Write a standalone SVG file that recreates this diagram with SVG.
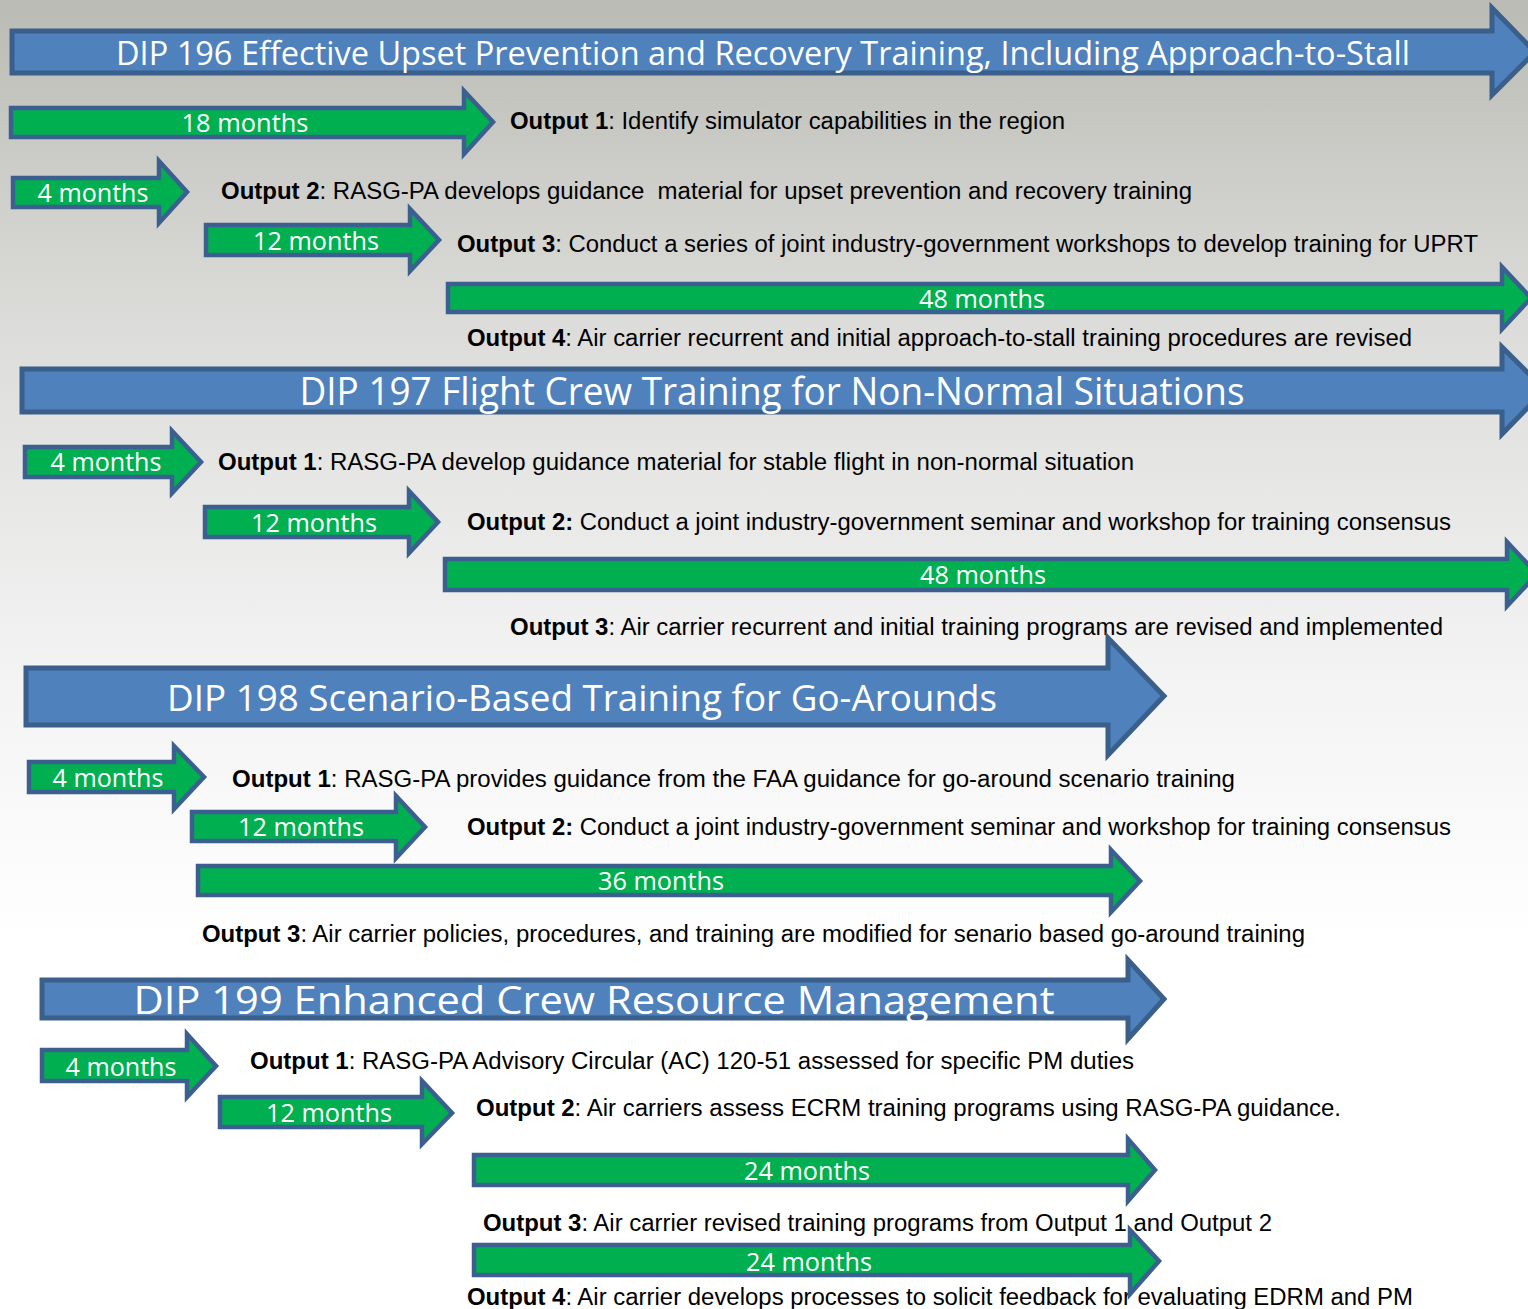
<svg xmlns="http://www.w3.org/2000/svg" width="1528" height="1309" viewBox="0 0 1528 1309">
<defs>
<linearGradient id="bg" x1="0" y1="0" x2="0" y2="1">
<stop offset="0" stop-color="#bbbbb5"/>
<stop offset="0.25" stop-color="#dcdcda"/>
<stop offset="0.5" stop-color="#f2f2f2"/>
<stop offset="0.72" stop-color="#ffffff"/>
<stop offset="1" stop-color="#ffffff"/>
</linearGradient>
<style>
.blue{fill:#4f81bd;stroke:#3a5f8b;stroke-width:5;stroke-linejoin:miter}
.green{fill:#00b050;stroke:#3b5f8f;stroke-width:4.5;stroke-linejoin:miter}
.title{font-family:"Open Sans","Noto Sans",sans-serif;fill:#ffffff;text-anchor:middle}
.dur{font-family:"Open Sans","Noto Sans",sans-serif;font-size:26px;fill:#ffffff;text-anchor:middle}
.out{font-family:"Liberation Sans",Arial,sans-serif;font-size:23.5px;fill:#000000}
.b{font-weight:bold}
</style>
</defs>
<rect x="0" y="0" width="1528" height="1309" fill="url(#bg)"/>

<g id="outputs">
<text class="out" x="510" y="129" textLength="555" lengthAdjust="spacingAndGlyphs"><tspan class="b">Output 1</tspan>: Identify simulator capabilities in the region</text>
<text class="out" x="221" y="199" xml:space="preserve" textLength="971" lengthAdjust="spacingAndGlyphs"><tspan class="b">Output 2</tspan>: RASG-PA develops guidance  material for upset prevention and recovery training</text>
<text class="out" x="457" y="252" textLength="1021" lengthAdjust="spacingAndGlyphs"><tspan class="b">Output 3</tspan>: Conduct a series of joint industry-government workshops to develop training for UPRT</text>
<text class="out" x="467" y="346" textLength="945" lengthAdjust="spacingAndGlyphs"><tspan class="b">Output 4</tspan>: Air carrier recurrent and initial approach-to-stall training procedures are revised</text>
<text class="out" x="218" y="470" textLength="916" lengthAdjust="spacingAndGlyphs"><tspan class="b">Output 1</tspan>: RASG-PA develop guidance material for stable flight in non-normal situation</text>
<text class="out" x="467" y="530" textLength="984" lengthAdjust="spacingAndGlyphs"><tspan class="b">Output 2:</tspan> Conduct a joint industry-government seminar and workshop for training consensus</text>
<text class="out" x="510" y="635" textLength="933" lengthAdjust="spacingAndGlyphs"><tspan class="b">Output 3</tspan>: Air carrier recurrent and initial training programs are revised and implemented</text>
<text class="out" x="232" y="787" textLength="1003" lengthAdjust="spacingAndGlyphs"><tspan class="b">Output 1</tspan>: RASG-PA provides guidance from the FAA guidance for go-around scenario training</text>
<text class="out" x="467" y="835" textLength="984" lengthAdjust="spacingAndGlyphs"><tspan class="b">Output 2:</tspan> Conduct a joint industry-government seminar and workshop for training consensus</text>
<text class="out" x="202" y="942" textLength="1103" lengthAdjust="spacingAndGlyphs"><tspan class="b">Output 3</tspan>: Air carrier policies, procedures, and training are modified for senario based go-around training</text>
<text class="out" x="250" y="1069" textLength="884" lengthAdjust="spacingAndGlyphs"><tspan class="b">Output 1</tspan>: RASG-PA Advisory Circular (AC) 120-51 assessed for specific PM duties</text>
<text class="out" x="476" y="1116" textLength="865" lengthAdjust="spacingAndGlyphs"><tspan class="b">Output 2</tspan>: Air carriers assess ECRM training programs using RASG-PA guidance.</text>
<text class="out" x="483" y="1231" textLength="789" lengthAdjust="spacingAndGlyphs"><tspan class="b">Output 3</tspan>: Air carrier revised training programs from Output 1 and Output 2</text>
<text class="out" x="467" y="1305" textLength="946" lengthAdjust="spacingAndGlyphs"><tspan class="b">Output 4</tspan>: Air carrier develops processes to solicit feedback for evaluating EDRM and PM</text>
</g>

<g id="connectors">
<g id="dip196">
<polygon class="blue" points="12,31 1492,31 1492,8 1535,52 1492,95 1492,73 12,73"/>
<text class="title" x="763" y="65" font-size="32" textLength="1294" lengthAdjust="spacingAndGlyphs">DIP 196 Effective Upset Prevention and Recovery Training, Including Approach-to-Stall</text>
</g>
<g id="d196-18">
<polygon class="green" points="11,108 464,108 464,91 493,122 464,154 464,137 11,137"/>
<text class="dur" x="245" y="132" textLength="127" lengthAdjust="spacingAndGlyphs">18 months</text>
</g>
<g id="d196-4">
<polygon class="green" points="13,178 159,178 159,161 187,192 159,223 159,207 13,207"/>
<text class="dur" x="93" y="202" textLength="111" lengthAdjust="spacingAndGlyphs">4 months</text>
</g>
<g id="d196-12">
<polygon class="green" points="206,225 410,225 410,209 439,240 410,271 410,255 206,255"/>
<text class="dur" x="316" y="250" textLength="126" lengthAdjust="spacingAndGlyphs">12 months</text>
</g>
<g id="d196-48">
<polygon class="green" points="448,284 1502,284 1502,267 1531,298 1502,329 1502,312 448,312"/>
<text class="dur" x="982" y="308" textLength="126" lengthAdjust="spacingAndGlyphs">48 months</text>
</g>

<g id="dip197">
<polygon class="blue" points="22,369 1502,369 1502,347 1545,390 1502,434 1502,412 22,412"/>
<text class="title" x="772" y="405" font-size="38" textLength="945" lengthAdjust="spacingAndGlyphs">DIP 197 Flight Crew Training for Non-Normal Situations</text>
</g>
<g id="d197-4">
<polygon class="green" points="25,447 172,447 172,431 201,462 172,493 172,477 25,477"/>
<text class="dur" x="106" y="471" textLength="111" lengthAdjust="spacingAndGlyphs">4 months</text>
</g>
<g id="d197-12">
<polygon class="green" points="205,507 409,507 409,491 438,522 409,553 409,537 205,537"/>
<text class="dur" x="314" y="532" textLength="126" lengthAdjust="spacingAndGlyphs">12 months</text>
</g>
<g id="d197-48">
<polygon class="green" points="445,559 1507,559 1507,542 1537,574 1507,606 1507,590 445,590"/>
<text class="dur" x="983" y="584" textLength="126" lengthAdjust="spacingAndGlyphs">48 months</text>
</g>

<g id="dip198">
<polygon class="blue" points="26,668 1108,668 1108,638 1164,696 1108,755 1108,725 26,725"/>
<text class="title" x="582" y="711" font-size="37" textLength="830" lengthAdjust="spacingAndGlyphs">DIP 198 Scenario-Based Training for Go-Arounds</text>
</g>
<g id="d198-4">
<polygon class="green" points="29,762 174,762 174,746 204,777 174,809 174,792 29,792"/>
<text class="dur" x="108" y="787" textLength="111" lengthAdjust="spacingAndGlyphs">4 months</text>
</g>
<g id="d198-12">
<polygon class="green" points="192,812 396,812 396,796 425,827 396,858 396,841 192,841"/>
<text class="dur" x="301" y="836" textLength="126" lengthAdjust="spacingAndGlyphs">12 months</text>
</g>
<g id="d198-36">
<polygon class="green" points="198,866 1111,866 1111,850 1140,881 1111,912 1111,895 198,895"/>
<text class="dur" x="661" y="890" textLength="126" lengthAdjust="spacingAndGlyphs">36 months</text>
</g>

<g id="dip199">
<polygon class="blue" points="42,980 1128,980 1128,960 1164,999 1128,1039 1128,1018 42,1018"/>
<text class="title" x="594" y="1014" font-size="39" textLength="921" lengthAdjust="spacingAndGlyphs">DIP 199 Enhanced Crew Resource Management</text>
</g>
<g id="d199-4">
<polygon class="green" points="42,1050 187,1050 187,1034 216,1066 187,1097 187,1081 42,1081"/>
<text class="dur" x="121" y="1076" textLength="111" lengthAdjust="spacingAndGlyphs">4 months</text>
</g>
<g id="d199-12">
<polygon class="green" points="220,1097 422,1097 422,1081 452,1113 422,1144 422,1127 220,1127"/>
<text class="dur" x="329" y="1122" textLength="126" lengthAdjust="spacingAndGlyphs">12 months</text>
</g>
<g id="d199-24a">
<polygon class="green" points="474,1155 1128,1155 1128,1139 1155,1170 1128,1201 1128,1185 474,1185"/>
<text class="dur" x="807" y="1180" textLength="126" lengthAdjust="spacingAndGlyphs">24 months</text>
</g>
<g id="d199-24b">
<polygon class="green" points="474,1245 1130,1245 1130,1230 1159,1261 1130,1294 1130,1275 474,1275"/>
<text class="dur" x="809" y="1271" textLength="126" lengthAdjust="spacingAndGlyphs">24 months</text>
</g>
</g>
</svg>
